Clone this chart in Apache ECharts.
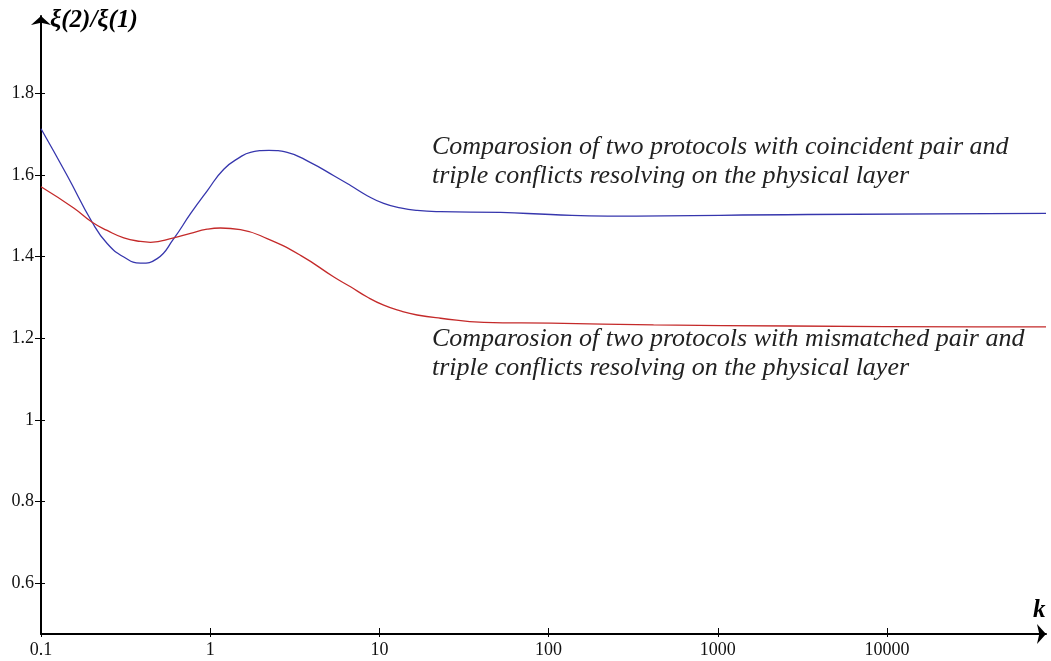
<!DOCTYPE html>
<html>
<head>
<meta charset="utf-8">
<script src="https://cdn.jsdelivr.net/npm/echarts@6/dist/echarts.min.js"></script>
<style>
html,body{margin:0;padding:0;background:#fff;}
#chart{width:1051px;height:661px;}
</style>
</head>
<body>
<div id="chart"></div>
<script>
// ---- data ----
const xTicks = [0.1, 1, 10, 100, 1000, 10000];
const yTicks = [0.6, 0.8, 1, 1.2, 1.4, 1.6, 1.8];

const kBlue = [0.1, 0.143, 0.2007, 0.246, 0.3086, 0.3873, 0.486, 0.609, 0.765, 0.960, 1.203, 1.51, 1.73, 2.22, 2.85, 3.92, 5.38, 6.75, 8.47, 10.6, 13.3, 16.7, 23, 52, 103, 223, 3390, 87000];
const vBlue = [1.713, 1.598, 1.484, 1.432, 1.399, 1.384, 1.395, 1.444, 1.505, 1.561, 1.614, 1.644, 1.655, 1.660, 1.655, 1.630, 1.598, 1.574, 1.549, 1.530, 1.519, 1.513, 1.510, 1.508, 1.503, 1.499, 1.503, 1.506];

const kRed = [0.1, 0.156, 0.2007, 0.246, 0.3086, 0.3873, 0.444, 0.609, 0.765, 0.960, 1.15, 1.51, 2.17, 3.42, 5.38, 6.75, 8.47, 10.6, 13.3, 16.7, 23, 41.4, 103, 417, 2690, 34300, 87000];
const vRed = [1.571, 1.519, 1.484, 1.464, 1.446, 1.437, 1.435, 1.446, 1.457, 1.467, 1.470, 1.466, 1.444, 1.403, 1.350, 1.326, 1.301, 1.281, 1.267, 1.257, 1.249, 1.239, 1.237, 1.233, 1.230, 1.228, 1.228];

const yName = 'ξ(2)/ξ(1)';
const xName = 'k';
const noteBlue = ['Comparosion of two protocols with coincident pair and', 'triple conflicts resolving on the physical layer'];
const noteRed = ['Comparosion of two protocols with mismatched pair and', 'triple conflicts resolving on the physical layer'];

// ---- chart ----
const serif = '"Liberation Serif", "Times New Roman", serif';
const chart = echarts.init(document.getElementById('chart'));
const fmt = v => String(Number(Number(v).toPrecision(6)));

const xBase = {
  type: 'log', logBase: 10, min: 0.1, max: 87000,
  splitLine: {show: false}, minorTick: {show: false}
};
const yBase = {
  type: 'value', min: 0.476, max: 1.989,
  splitLine: {show: false}
};

const option = {
  animation: false,
  backgroundColor: '#fff',
  grid: {left: 41, right: 5, top: 16, bottom: 27, containLabel: false},
  xAxis: [
    Object.assign({}, xBase, {
      position: 'bottom',
      axisLine: {show: true, onZero: false, lineStyle: {color: '#000', width: 2},
        symbol: ['none', 'arrow'], symbolSize: [15, 9], symbolOffset: [0, 0]},
      axisTick: {show: true, customValues: xTicks, length: 3, lineStyle: {color: '#000', width: 1}},
      axisLabel: {show: true, customValues: xTicks, formatter: fmt, color: '#111',
        fontFamily: serif, fontSize: 18, margin: 7}
    }),
    Object.assign({}, xBase, {
      position: 'bottom',
      axisLine: {show: false, onZero: false},
      axisTick: {show: true, inside: true, customValues: xTicks, length: 6, lineStyle: {color: '#000', width: 1}},
      axisLabel: {show: false}
    })
  ],
  yAxis: [
    Object.assign({}, yBase, {
      position: 'left',
      axisLine: {show: true, onZero: false, lineStyle: {color: '#000', width: 2},
        symbol: ['none', 'arrow'], symbolSize: [15, 9], symbolOffset: [0, 0]},
      axisTick: {show: true, customValues: yTicks, length: 6, lineStyle: {color: '#000', width: 1}},
      axisLabel: {show: true, customValues: yTicks, formatter: fmt, color: '#111',
        fontFamily: serif, fontSize: 18, margin: 7}
    }),
    Object.assign({}, yBase, {
      position: 'left',
      axisLine: {show: false, onZero: false},
      axisTick: {show: true, inside: true, customValues: yTicks, length: 4, lineStyle: {color: '#000', width: 1}},
      axisLabel: {show: false}
    })
  ],
  series: [
    {
      type: 'line', name: 'coincident', xAxisIndex: 0, yAxisIndex: 0,
      data: kBlue.map((k, i) => [k, vBlue[i]]),
      smooth: 0.5, showSymbol: false, symbol: 'none',
      lineStyle: {color: '#3636ad', width: 1.3}
    },
    {
      type: 'line', name: 'mismatched', xAxisIndex: 0, yAxisIndex: 0,
      data: kRed.map((k, i) => [k, vRed[i]]),
      smooth: 0.5, showSymbol: false, symbol: 'none',
      lineStyle: {color: '#c42a2a', width: 1.3}
    }
  ],
  graphic: [
    {type: 'text', left: 50, top: 8, style: {text: yName, fontFamily: serif, fontStyle: 'italic', fontWeight: 'bold', fontSize: 25, fill: '#000'}},
    {type: 'text', left: 1033, top: 598, style: {text: xName, fontFamily: serif, fontStyle: 'italic', fontWeight: 'bold', fontSize: 25, fill: '#000'}},
    {type: 'text', left: 432, top: 133, style: {text: noteBlue.join('\n'), lineHeight: 29, fontFamily: serif, fontStyle: 'italic', fontSize: 26, fill: '#222'}},
    {type: 'text', left: 432, top: 325, style: {text: noteRed.join('\n'), lineHeight: 29, fontFamily: serif, fontStyle: 'italic', fontSize: 26, fill: '#222'}}
  ]
};
chart.setOption(option);
</script>
</body>
</html>
